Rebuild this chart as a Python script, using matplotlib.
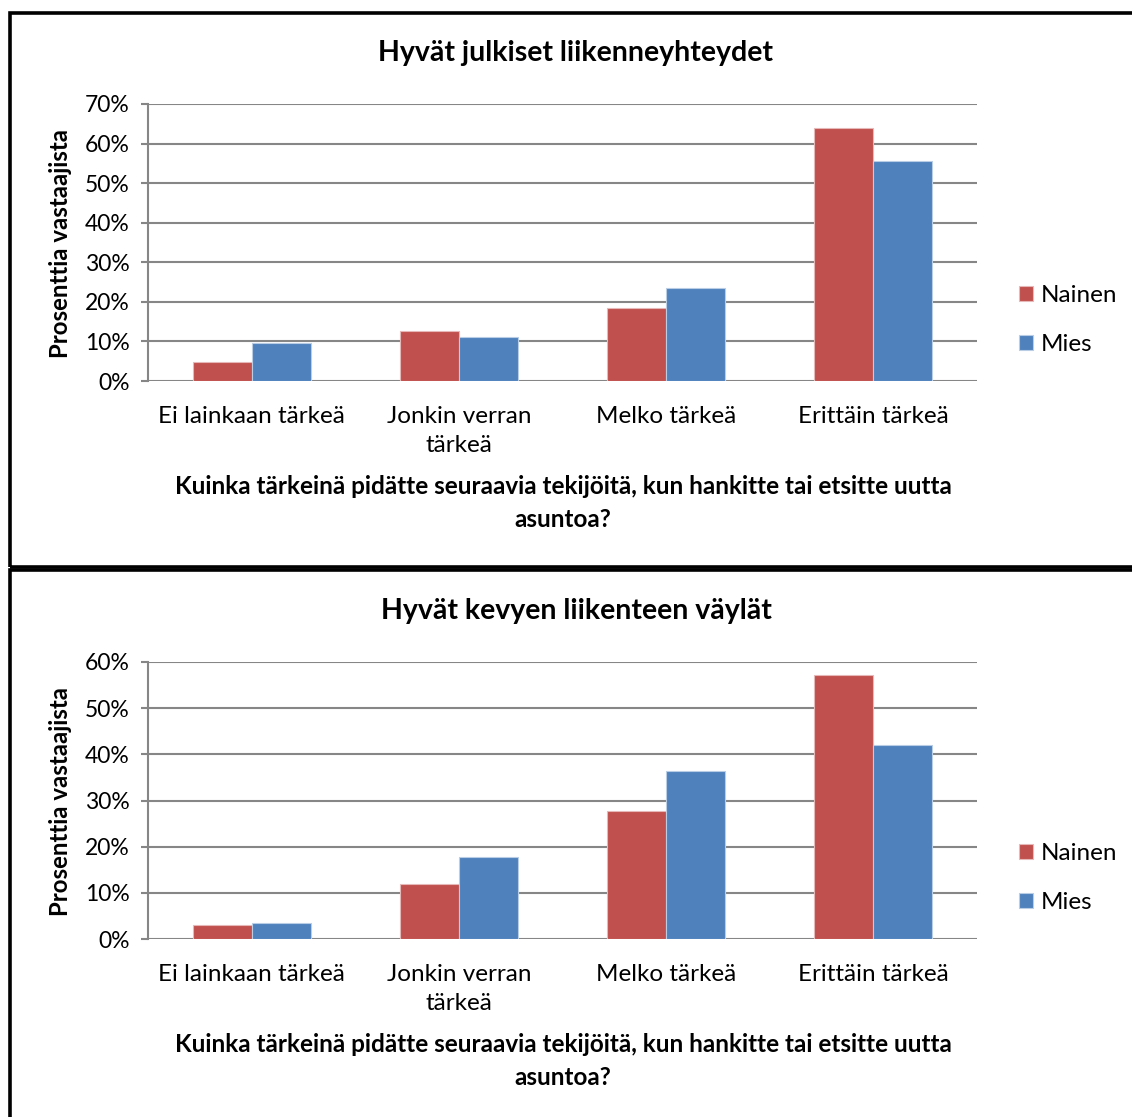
import matplotlib
matplotlib.use("Agg")
import matplotlib.pyplot as plt
import matplotlib.patches as patches
import numpy as np

# data (percent of respondents)
categories = ["Ei lainkaan tärkeä", "Jonkin verran\ntärkeä", "Melko tärkeä", "Erittäin tärkeä"]
series_names = ["Nainen", "Mies"]

titles = ["Hyvät julkiset liikenneyhteydet", "Hyvät kevyen liikenteen väylät"]
nainen_julkiset = [4.7, 12.7, 18.4, 64.0]
mies_julkiset = [9.5, 11.0, 23.4, 55.7]
nainen_kevyt = [3.0, 11.9, 27.8, 57.1]
mies_kevyt = [3.5, 17.7, 36.4, 42.1]
y_max = [70, 60]

x_title = "Kuinka tärkeinä pidätte seuraavia tekijöitä, kun hankitte tai etsitte uutta\nasuntoa?"
y_title = "Prosenttia vastaajista"

RED = "#C0504D"
BLUE = "#4F81BD"
GRID = "#868686"

W, H = 1132, 1117
plt.rcParams['font.family'] = ['Lato', 'DejaVu Sans']

fig = plt.figure(figsize=(W / 100, H / 100), dpi=100)


def fx(x):
    return x / W


def fy(y):
    return 1 - y / H


def draw_chart(top, title, nainen, mies, ymax):
    # plot area in pixels of the reference
    left, right = 148, 977
    ax_top, ax_bot = top + 91, top + 368
    ax = fig.add_axes([fx(left), fy(ax_bot), fx(right) - fx(left), fy(ax_top) - fy(ax_bot)])
    x = np.arange(len(categories))
    w = 0.285
    ax.bar(x - w / 2, nainen, w, color=RED, edgecolor="#E6B9B8", linewidth=0.8, label=series_names[0], zorder=3)
    ax.bar(x + w / 2, mies, w, color=BLUE, edgecolor="#B9CDE5", linewidth=0.8, label=series_names[1], zorder=3)
    ax.set_xlim(-0.5, len(categories) - 0.5)
    ax.set_ylim(0, ymax)
    ticks = np.arange(0, ymax + 1, 10)
    ax.set_yticks(ticks)
    ax.set_yticklabels([f"{t}%" for t in ticks], fontsize=16.5)
    ax.set_xticks(x)
    ax.set_xticklabels(categories, fontsize=17.5, linespacing=1.5)
    ax.tick_params(axis='x', length=0, pad=18)
    ax.tick_params(axis='y', length=5, width=1.5, color=GRID, pad=8)
    ax.yaxis.grid(True, color=GRID, linewidth=1.5, zorder=0)
    for s in ["top", "right", "bottom"]:
        ax.spines[s].set_visible(False)
    ax.spines["left"].set_color(GRID)
    ax.spines["left"].set_linewidth(1.5)

    fig.text(fx(576), fy(top + 40), title, fontsize=20.5, fontweight="bold", ha="center", va="center")
    fig.text(fx(563), fy(top + 490), x_title, fontsize=17.5, fontweight="bold", ha="center",
             va="center", linespacing=1.5)
    fig.text(fx(61), fy(top + 230), y_title, fontsize=17.3, fontweight="bold", rotation=90,
             ha="center", va="center")
    ax.legend(loc="center left", bbox_to_anchor=(fx(1009), fy(top + 307)), bbox_transform=fig.transFigure,
              frameon=False, fontsize=17.5, handlelength=0.6, handleheight=0.6, handletextpad=0.3,
              labelspacing=1.15, borderaxespad=0)
    return ax


draw_chart(13, titles[0], nainen_julkiset, mies_julkiset, y_max[0])
draw_chart(571, titles[1], nainen_kevyt, mies_kevyt, y_max[1])

# frames around both charts
for y0, y1 in [(13, 567), (570, H + 20)]:
    rect = patches.Rectangle((fx(10), fy(y1)), fx(W + 20) - fx(10), fy(y0) - fy(y1),
                             transform=fig.transFigure, fill=False, edgecolor="black", linewidth=2.6)
    fig.patches.append(rect)

fig.savefig("out.png", dpi=100, facecolor="white")
